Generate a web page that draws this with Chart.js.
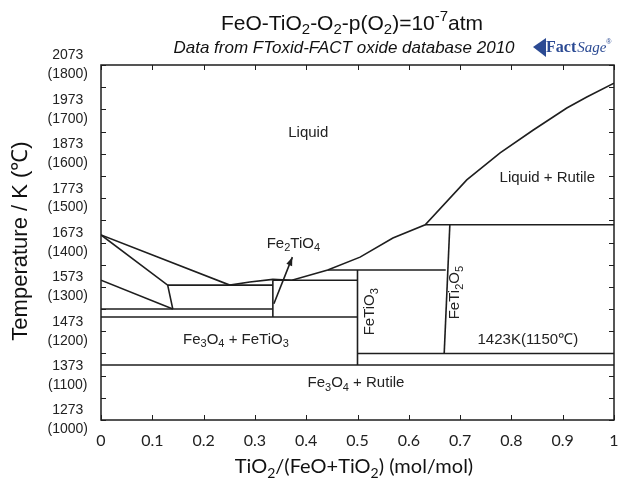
<!DOCTYPE html>
<html lang="en">
<head>
<meta charset="UTF-8">
<title>FeO-TiO2-O2 phase diagram</title>
<style>
  html, body { margin: 0; padding: 0; background: #fff; }
  #wrap { width: 618px; height: 481px; }
</style>
</head>
<body>
<div id="wrap"><canvas id="chart" width="618" height="481"></canvas></div>
<script src="https://cdn.jsdelivr.net/npm/chart.js"></script>
<script>
// axis ticks
const xTicks = [0, 0.1, 0.2, 0.3, 0.4, 0.5, 0.6, 0.7, 0.8, 0.9, 1];
const tempTicks = [1273, 1373, 1473, 1573, 1673, 1773, 1873, 1973, 2073];

// phase boundaries, x = TiO2/(FeO+TiO2), T in K
const liquidusX = [0, 0.251, 0.29, 0.335, 0.372, 0.442, 0.505, 0.569, 0.632, 0.713, 0.778, 0.842, 0.908, 0.947, 1];
const liquidusT = [1690, 1577, 1584, 1590, 1588, 1611, 1640, 1683, 1713, 1814, 1875, 1926, 1976, 2001, 2032];

const spinelLiqX = [0, 0.13, 0.14];
const spinelLiqT = [1690, 1577, 1523];
const spinelLowX = [0, 0.14];
const spinelLowT = [1588, 1523];

const eutecticX = [0.13, 0.335];
const eutecticT = [1577, 1577];
const band1X = [0, 0.335];
const band1T = [1523, 1523];
const band2X = [0, 0.5];
const band2T = [1505, 1505];
const fe2tio4X = [0.335, 0.335];
const fe2tio4T = [1588, 1505];
const fe2tio4TopX = [0.335, 0.5];
const fe2tio4TopT = [1588, 1588];
const ilmTopX = [0.442, 0.672];
const ilmTopT = [1611, 1611];
const fetio3X = [0.5, 0.5];
const fetio3T = [1611, 1397];
const lowX = [0, 1];
const lowT = [1397, 1397];
const pseudoLowX = [0.5, 1];
const pseudoLowT = [1423, 1423];
const fetio5X = [0.68, 0.669];
const fetio5T = [1713, 1423];
const rutileTopX = [0.632, 1];
const rutileTopT = [1713, 1713];

// arrow towards the Fe2TiO4 label
const arrowX = [0.337, 0.373];
const arrowT = [1535, 1640];

const boundaries = [
  [liquidusX, liquidusT], [spinelLiqX, spinelLiqT], [spinelLowX, spinelLowT],
  [eutecticX, eutecticT], [band1X, band1T], [band2X, band2T],
  [fe2tio4X, fe2tio4T], [fe2tio4TopX, fe2tio4TopT], [ilmTopX, ilmTopT],
  [fetio3X, fetio3T], [lowX, lowT], [pseudoLowX, pseudoLowT],
  [fetio5X, fetio5T], [rutileTopX, rutileTopT], [arrowX, arrowT]
];

// region labels: text, x, T, rotated
const regionLabels = [
  ['Liquid', 0.404, 1920, false],
  ['Liquid + Rutile', 0.870, 1818, false],
  ['Fe_{2}TiO_{4}', 0.375, 1670, false],
  ['Fe_{3}O_{4} + FeTiO_{3}', 0.263, 1454, false],
  ['FeTiO_{3}', 0.525, 1517, true],
  ['FeTi_{2}O_{5}', 0.69, 1560, true],
  ['1423K(1150\u2103)', 0.832, 1453, false],
  ['Fe_{3}O_{4} + Rutile', 0.497, 1356, false]
];

const LINE = '#1e1e1e';
const SANS = '"Liberation Sans", Arial, sans-serif';

function parseRich(str) {
  const out = [];
  const re = /([_^])\{([^}]*)\}/g;
  let last = 0, m;
  while ((m = re.exec(str))) {
    if (m.index > last) out.push({ t: str.slice(last, m.index), k: 'n' });
    out.push({ t: m[2], k: m[1] === '_' ? 'sub' : 'sup' });
    last = re.lastIndex;
  }
  if (last < str.length) out.push({ t: str.slice(last), k: 'n' });
  return out;
}

function drawRich(ctx, str, x, y, size, family, style) {
  const parts = parseRich(str);
  const small = Math.round(size * 0.72);
  const font = k => (style || '') + ' ' + (k === 'n' ? size : small) + 'px ' + family;
  let w = 0;
  parts.forEach(p => { ctx.font = font(p.k); p.w = ctx.measureText(p.t).width; w += p.w; });
  let cx = x - w / 2;
  ctx.textAlign = 'left';
  ctx.textBaseline = 'middle';
  parts.forEach(p => {
    ctx.font = font(p.k);
    const dy = p.k === 'sub' ? size * 0.3 : (p.k === 'sup' ? -size * 0.35 : 0);
    ctx.fillText(p.t, cx, y + dy);
    cx += p.w;
  });
}

const decor = {
  id: 'decor',
  afterDraw(chart) {
    const ctx = chart.ctx;
    const a = chart.chartArea;
    const xs = chart.scales.x, ys = chart.scales.y;
    ctx.save();
    ctx.strokeStyle = LINE;
    ctx.lineWidth = 1.5;
    ctx.strokeRect(a.left, a.top, a.right - a.left, a.bottom - a.top);

    // inward tick marks
    ctx.lineWidth = 1;
    ctx.beginPath();
    xTicks.forEach(v => {
      const px = Math.round(xs.getPixelForValue(v)) + 0.5;
      ctx.moveTo(px, a.bottom); ctx.lineTo(px, a.bottom - 5);
      ctx.moveTo(px, a.top); ctx.lineTo(px, a.top + 5);
    });
    tempTicks.forEach(v => {
      [v, v + 50].forEach(t => {
        if (t > 2073) return;
        const py = Math.round(ys.getPixelForValue(t)) + 0.5;
        ctx.moveTo(a.left, py); ctx.lineTo(a.left + 5, py);
        ctx.moveTo(a.right, py); ctx.lineTo(a.right - 5, py);
      });
    });
    ctx.stroke();

    // arrow head
    const x0 = xs.getPixelForValue(arrowX[0]), y0 = ys.getPixelForValue(arrowT[0]);
    const x1 = xs.getPixelForValue(arrowX[1]), y1 = ys.getPixelForValue(arrowT[1]);
    const ang = Math.atan2(y1 - y0, x1 - x0);
    ctx.fillStyle = LINE;
    ctx.beginPath();
    ctx.moveTo(x1, y1);
    ctx.lineTo(x1 - 9 * Math.cos(ang - 0.35), y1 - 9 * Math.sin(ang - 0.35));
    ctx.lineTo(x1 - 9 * Math.cos(ang + 0.35), y1 - 9 * Math.sin(ang + 0.35));
    ctx.closePath();
    ctx.fill();

    // region labels
    ctx.fillStyle = '#222';
    regionLabels.forEach(([txt, x, t, rot]) => {
      const px = xs.getPixelForValue(x), py = ys.getPixelForValue(t);
      if (rot) {
        ctx.save();
        ctx.translate(px, py);
        ctx.rotate(-Math.PI / 2);
        drawRich(ctx, txt, 0, 0, 15, SANS);
        ctx.restore();
      } else {
        drawRich(ctx, txt, px, py, 15, SANS);
      }
    });

    // titles
    ctx.fillStyle = '#111';
    drawRich(ctx, 'FeO-TiO_{2}-O_{2}-p(O_{2})=10^{-7}atm', 352, 24, 21, SANS);
    drawRich(ctx, 'Data from FToxid-FACT oxide database 2010', 344, 48, 17, SANS, 'italic');
    drawRich(ctx, 'TiO_{2}/(FeO+TiO_{2}) (mol/mol)', 354, 467, 20, 'Lato, "Open Sans", sans-serif');

    ctx.save();
    ctx.translate(21, 241);
    ctx.rotate(-Math.PI / 2);
    drawRich(ctx, 'Temperature / K (\u2103)', 0, 0, 22, SANS);
    ctx.restore();

    // FactSage logo
    ctx.fillStyle = '#2b4a93';
    ctx.font = 'bold 16px "Liberation Serif", serif';
    ctx.textAlign = 'left';
    ctx.textBaseline = 'middle';
    ctx.beginPath();
    ctx.moveTo(533, 47); ctx.lineTo(546, 38); ctx.lineTo(546, 57); ctx.closePath();
    ctx.fill();
    ctx.fillText('Fact', 546, 48);
    const fw = ctx.measureText('Fact').width;
    ctx.font = 'italic 15px "Liberation Serif", serif';
    ctx.fillText('Sage', 546 + fw + 1, 48);
    const sw = ctx.measureText('Sage').width;
    ctx.font = '7px ' + SANS;
    ctx.fillText('\u00ae', 546 + fw + sw + 1, 42);
    ctx.restore();
  }
};

new Chart(document.getElementById('chart'), {
  type: 'scatter',
  data: {
    datasets: boundaries.map(([bx, bt]) => ({
      data: bx.map((v, i) => ({ x: v, y: bt[i] })),
      showLine: true,
      borderColor: LINE,
      borderWidth: 1.6,
      pointRadius: 0,
      tension: 0
    }))
  },
  options: {
    responsive: false,
    animation: false,
    layout: { padding: { left: 0, top: 65, right: 4, bottom: 0 } },
    plugins: { legend: { display: false }, tooltip: { enabled: false } },
    scales: {
      x: {
        type: 'linear', min: 0, max: 1,
        afterBuildTicks: s => { s.ticks = xTicks.map(v => ({ value: v })); },
        afterFit: s => { s.height = 61; s.paddingLeft = 0; s.paddingRight = 0; },
        grid: { display: false, drawTicks: false },
        border: { display: false },
        ticks: {
          padding: 11,
          maxRotation: 0,
          color: '#222',
          font: { family: 'Lato, "Open Sans", sans-serif', size: 16 },
          callback: v => String(Math.round(v * 10) / 10)
        }
      },
      y: {
        type: 'linear', min: 1273, max: 2073,
        afterBuildTicks: s => { s.ticks = tempTicks.map(v => ({ value: v })); },
        afterFit: s => { s.width = 101; s.paddingTop = 0; s.paddingBottom = 0; },
        grid: { display: false, drawTicks: false },
        border: { display: false },
        ticks: {
          padding: 13,
          crossAlign: 'center',
          color: '#222',
          font: { family: SANS, size: 14, lineHeight: 1.35 },
          callback: v => [String(v), '(' + (v - 273) + ')']
        }
      }
    }
  },
  plugins: [decor]
});
</script>
</body>
</html>
